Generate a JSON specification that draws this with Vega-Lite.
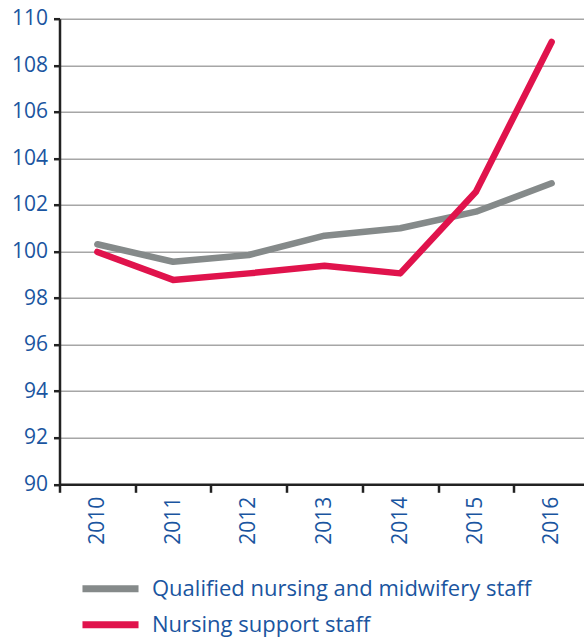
{
  "$schema": "https://vega.github.io/schema/vega-lite/v6.json",
  "width": 530,
  "height": 465.6,
  "autosize": "none",
  "padding": {"left": 59.5, "top": 18.7, "right": 0, "bottom": 152.7},
  "background": "white",
  "config": {"view": {"stroke": null}, "font": "Open Sans"},
  "data": {"values": [
    {"year": "2010", "series": "Qualified nursing and midwifery staff", "value": 100.31},
    {"year": "2011", "series": "Qualified nursing and midwifery staff", "value": 99.56},
    {"year": "2012", "series": "Qualified nursing and midwifery staff", "value": 99.85},
    {"year": "2013", "series": "Qualified nursing and midwifery staff", "value": 100.68},
    {"year": "2014", "series": "Qualified nursing and midwifery staff", "value": 101.0},
    {"year": "2015", "series": "Qualified nursing and midwifery staff", "value": 101.71},
    {"year": "2016", "series": "Qualified nursing and midwifery staff", "value": 102.93},
    {"year": "2010", "series": "Nursing support staff", "value": 99.98},
    {"year": "2011", "series": "Nursing support staff", "value": 98.78},
    {"year": "2012", "series": "Nursing support staff", "value": 99.06},
    {"year": "2013", "series": "Nursing support staff", "value": 99.39},
    {"year": "2014", "series": "Nursing support staff", "value": 99.06},
    {"year": "2015", "series": "Nursing support staff", "value": 102.57},
    {"year": "2016", "series": "Nursing support staff", "value": 109.0}
  ]},
  "mark": {"type": "line", "strokeWidth": 6.5, "strokeCap": "round", "strokeJoin": "round"},
  "encoding": {
    "x": {
      "field": "year", "type": "ordinal", "bandPosition": 0.5,
      "scale": {"type": "band", "paddingInner": 0, "paddingOuter": 0},
      "axis": {
        "title": null, "labelAngle": -90, "labelAlign": "right", "labelBaseline": "middle",
        "labelPadding": 4, "tickBand": "extent", "tickSize": 8, "tickWidth": 2.5,
        "tickColor": "#222222", "domainColor": "#222222", "domainWidth": 2.5,
        "labelFontSize": 21, "labelColor": "#1a55a0", "grid": false
      }
    },
    "y": {
      "field": "value", "type": "quantitative",
      "scale": {"domain": [90, 110], "nice": false},
      "axis": {
        "title": null, "values": [90, 92, 94, 96, 98, 100, 102, 104, 106, 108, 110],
        "tickSize": 6, "tickWidth": 2.5, "tickColor": "#222222", "labelPadding": 6,
        "labelFontSize": 21, "labelColor": "#1a55a0",
        "gridColor": "#a6a6a6", "gridWidth": 1.5,
        "domainColor": "#222222", "domainWidth": 2.5
      }
    },
    "color": {
      "field": "series", "type": "nominal",
      "scale": {"domain": ["Qualified nursing and midwifery staff", "Nursing support staff"], "range": ["#858a8a", "#e0134c"]},
      "legend": {
        "title": null, "orient": "none", "legendX": 38, "legendY": 557,
        "symbolType": "M-2.95,0H2.95", "symbolSize": 361, "symbolStrokeWidth": 7,
        "labelFontSize": 22, "labelLimit": 600, "labelColor": "#1a55a0", "rowPadding": 8, "labelOffset": 28.5
      }
    }
  }
}
